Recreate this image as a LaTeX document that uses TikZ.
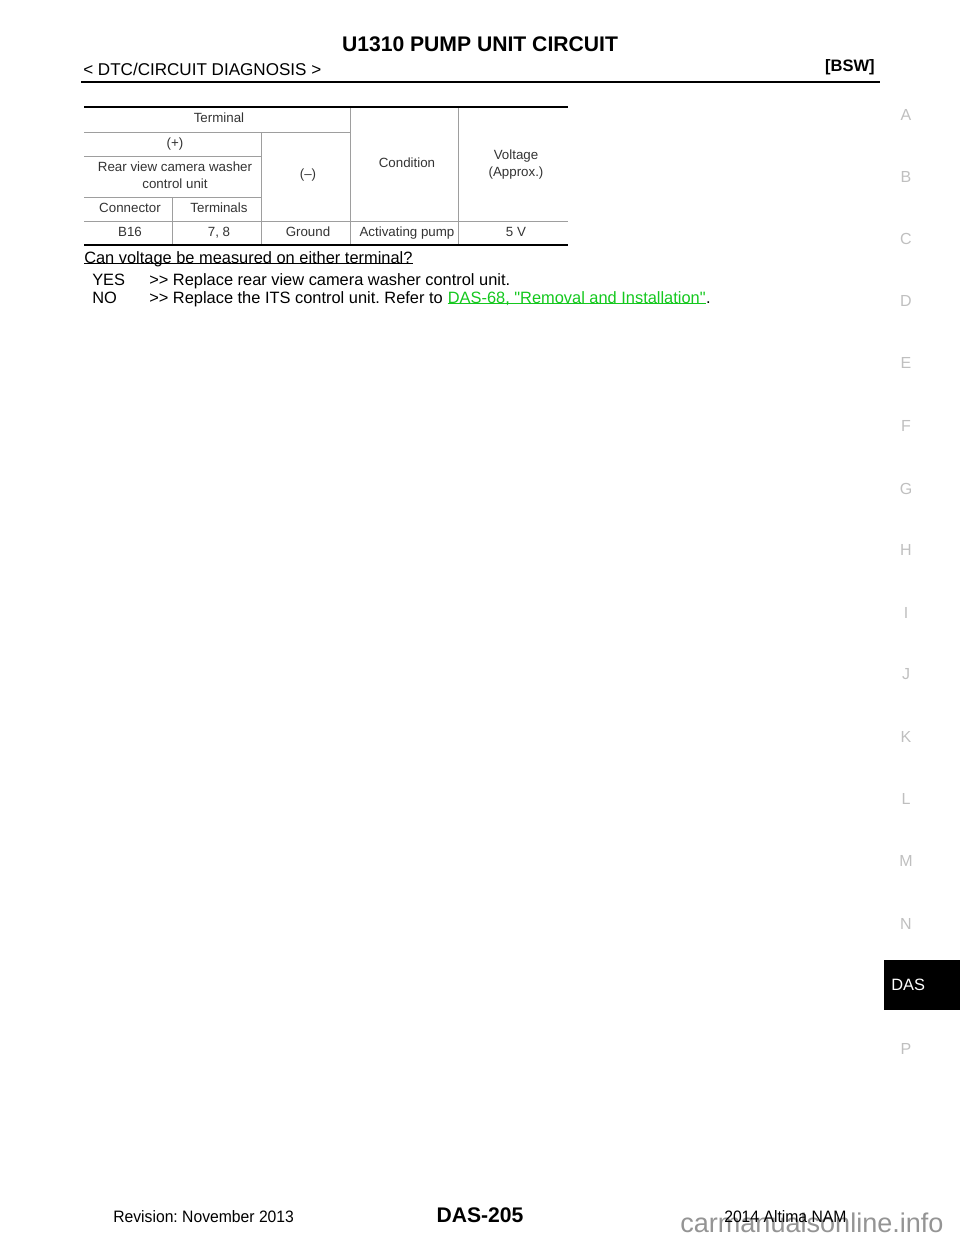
\documentclass[tikz,border=0pt]{standalone}
\usepackage{fontspec}
\setmainfont{Liberation Sans}
\newfontfamily\footfont[FakeStretch=0.95]{Liberation Sans}
\newfontfamily\plainfont{Liberation Sans}
\definecolor{tabgray}{gray}{0.62}
\definecolor{sidegray}{gray}{0.75}
\definecolor{markgray}{gray}{0.58}
\definecolor{linkgreen}{RGB}{20,200,30}
\tikzset{
	cell/.style={inner sep=0pt,anchor=base,align=center,font=\fontsize{10pt}{12pt}\selectfont,text=black!80},
	body/.style={inner sep=0pt,anchor=base west,font=\fontsize{12.3pt}{14pt}\selectfont},
	big/.style={inner sep=0pt,anchor=base,font=\fontsize{15.85pt}{18pt}\selectfont\bfseries},
	side/.style={inner sep=0pt,anchor=base,text=sidegray,font=\fontsize{12pt}{14pt}\selectfont},
	thin rule/.style={draw=tabgray,line width=0.75pt},
	thick rule/.style={draw=black,line width=1.5pt},
	under/.style={line width=0.7pt,yshift=-1.9pt}
}
\begin{document}
\frenchspacing
\begin{tikzpicture}[x=0.75pt,y=-0.75pt]
	\useasboundingbox (0,0) rectangle (960,1242);
	\path (84,107) coordinate (TL)
		(568,107) coordinate (TR)
		(84,245) coordinate (BL)
		(568,245) coordinate (BR)
		(81,82) coordinate (HL)
		(880,82) coordinate (HR);
	% header
	\draw[black,line width=2.2pt] (HL)--(HR);
	\node[big] (title) at (480,51) {U1310 PUMP UNIT CIRCUIT};
	\node[body,font=\fontsize{12.8pt}{14pt}\selectfont] (section) at (83,75) {< DTC/CIRCUIT DIAGNOSIS >};
	\node[inner sep=0pt,anchor=base east,font=\fontsize{12.4pt}{14pt}\selectfont\bfseries] (bsw) at (875,71) {[BSW]};
	% table rules
	\draw[thin rule] (84,132)--(351,132) (84,156)--(262,156) (84,197)--(262,197) (84,221)--(568,221);
	\draw[thin rule] (350.5,107)--(350.5,245) (458.5,107)--(458.5,245) (261.5,132)--(261.5,245) (172.5,197)--(172.5,245);
	\draw[thick rule] (TL)--(TR) (BL)--(BR);
	% table texts
	\foreach \n/\x/\y/\t in {terminal/219/122.5/Terminal,plus/175/147/(+),minus/308/178/(--),
		cond/407/167/Condition,volt/516/159/Voltage,approx/516/176/(Approx.),
		rear/175/171.5/Rear view camera washer,unit/175/188/control unit,
		conn/130/212/Connector,terms/219/212/Terminals,
		bsix/130/236/B16,pins/219/236/{7, 8},ground/308/236/Ground,pump/407/236/Activating pump,five/516/236/5 V}{
		\node[cell] (\n) at (\x,\y) {\t};
	}
	% answers
	\node[body] (question) at (84,263) {Can voltage be measured on either terminal?};
	\node[body] (yes) at (92,285.5) {YES};
	\node[body] (no) at (92,303.5) {NO};
	\node[body] (yestxt) at (149,285.5) {>{}> Replace rear view camera washer control unit.};
	\node[body] (notxt) at (149,303.5) {>{}> Replace the ITS control unit. Refer to};
	\node[body,text=linkgreen,xshift=3.4pt] (link) at (notxt.base east) {\plainfont DAS-68, "Removal and Installation"};
	\node[body] (stop) at (link.base east) {.};
	\draw[under] (question.base west)--(question.base east);
	\draw[under,linkgreen] (link.base west)--(link.base east);
	% side index
	\foreach \t/\y in {A/120,B/182,C/244,D/306,E/368,F/431,G/494,H/555,I/618,J/679,K/742,L/804,M/866,N/929,P/1054}{
		\node[side] (side\t) at (906,\y) {\t};
	}
	\fill[black] (884,960) rectangle (960,1010);
	\node[body,text=white] (das) at (891,990) {DAS};
	% footer
	\node[inner sep=0pt,anchor=base west,text=markgray,font=\fontsize{20.3pt}{24pt}\selectfont] (mark) at (680,1232.7) {carmanualsonline.info};
	\node[body,font=\footfont\fontsize{12.4pt}{14pt}\selectfont] (rev) at (113,1222) {Revision: November 2013};
	\node[big] (page) at (480,1222) {DAS-205};
	\node[body,font=\footfont\fontsize{12.4pt}{14pt}\selectfont] (model) at (724,1222) {2014 Altima NAM};
\end{tikzpicture}
\end{document}
